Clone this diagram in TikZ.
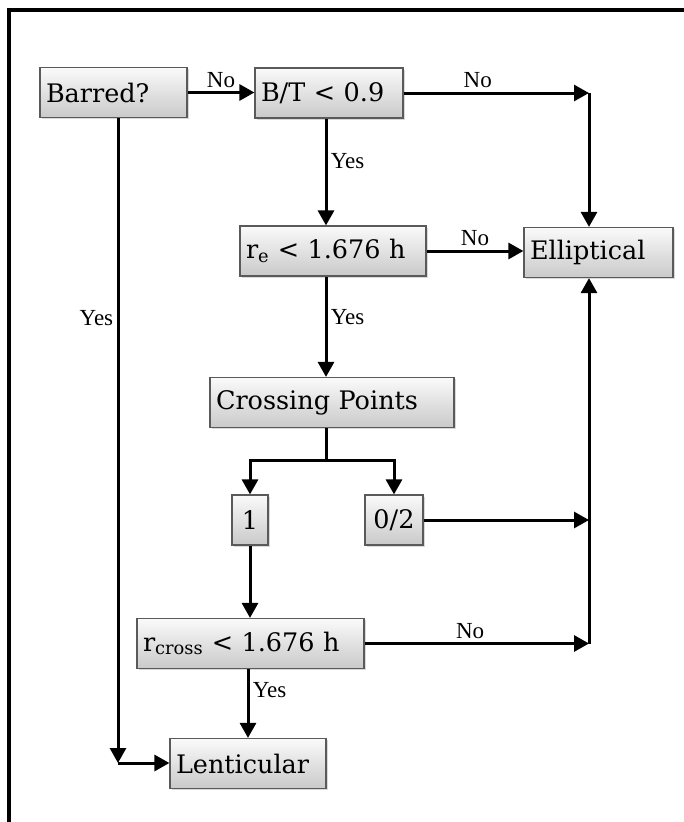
\documentclass[tikz,border=0pt]{standalone}
\usepackage{fontspec}
\setmainfont{DejaVu Serif}
\newfontfamily\labfont{Liberation Serif}
\usetikzlibrary{arrows.meta,shadows}
\definecolor{boxedge}{HTML}{5A5A5A}

\begin{document}
\begin{tikzpicture}[x=1pt,y=-1pt,
  box/.style={draw=boxedge,line width=1.2pt,top color=gray!4,bottom color=gray!42,
    drop shadow={shadow xshift=1.5pt,shadow yshift=-1.5pt,opacity=0.3},
    minimum height=50pt,inner xsep=6pt,inner ysep=0pt,align=left,
    font=\fontsize{25.5}{30}\selectfont},
  flow/.style={line width=3pt,-{Triangle[length=15pt,width=16pt]}},
  lab/.style={font=\labfont\fontsize{23}{27}\selectfont}]
  \useasboundingbox (0,0) rectangle (684,822);
  \draw[line width=4pt] (684,10) -- (9,10) -- (9,822);
  % boxes
  \node[box,text width=135pt] (barred) at (113.5,92.5) {Barred?};
  \node[box,text width=136pt] (bt) at (329,93) {B/T < 0.9};
  \node[box,text width=174pt] (re) at (333,251) {r\textsubscript{e} < 1.676 h};
  \node[box,text width=137pt] (ell) at (598.5,252.5) {Elliptical};
  \node[box,text width=232pt] (cross) at (332,402.5) {Crossing Points};
  \node[box,text width=24pt,align=center] (one) at (250,520) {1};
  \node[box,text width=46pt,align=center] (zt) at (394,520) {0/2};
  \node[box,text width=215pt] (rc) at (250.5,643.5) {r\textsubscript{cross} < 1.676 h};
  \node[box,text width=144pt] (len) at (248,763.5) {Lenticular};
  \coordinate (ne) at (589,93);
  \coordinate (ze) at (589,520);
  \coordinate (rce) at (589,643.5);
  \coordinate (split) at (326,460);
  \coordinate (corner) at (118,763);
  % connectors
  \draw[flow] (barred.east) -- (barred.east -| bt.west) node[lab,midway,above=0pt] {No};
  \draw[flow] (bt.east) -- (ne) node[lab,pos=0.4,above=0pt] {No};
  \draw[flow] (ne) -- (ell.north -| ne);
  \draw[flow] (bt.south -| split) -- (re.north -| split) node[lab,pos=0.4,right] {Yes};
  \draw[flow] (re.east) -- (re.east -| ell.west) node[lab,midway,above=0pt] {No};
  \draw[flow] (re.south -| split) -- (cross.north -| split) node[lab,pos=0.4,right] {Yes};
  \draw[flow] (cross.south -| split) -- (split) -| (one.north);
  \draw[flow] (split) -| (zt.north);
  \draw[flow] (zt.east) -- (ze);
  \draw[flow] (one.south) -- (rc.north -| one.south);
  \draw[flow] (rc.east) -- (rce) node[lab,pos=0.47,above=0pt] {No};
  \draw[flow] (rce) -- (ell.south -| rce);
  \draw[flow] (rc.south -| len.north) -- (len.north) node[lab,pos=0.3,right] {Yes};
  \draw[flow] (barred.south -| corner) -- (corner) node[lab,pos=0.31,left] {Yes};
  \draw[flow] (corner) -- (len.west |- corner);
\end{tikzpicture}
\end{document}
